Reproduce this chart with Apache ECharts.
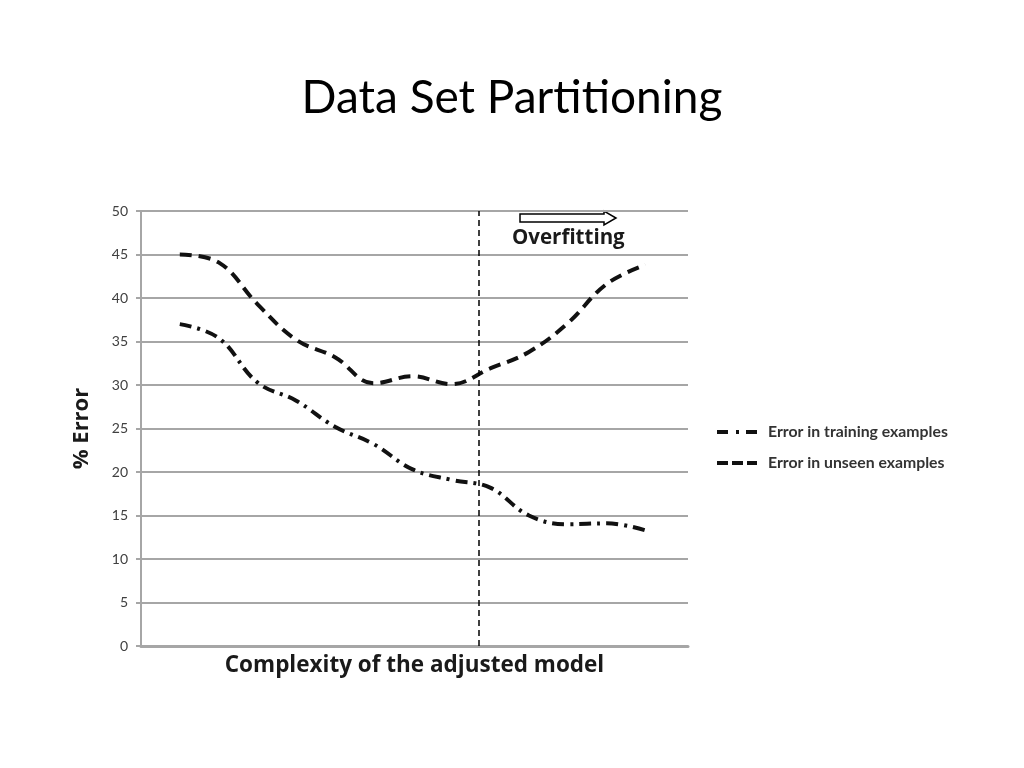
<!DOCTYPE html>
<html>
<head>
<meta charset="utf-8">
<script src="https://cdn.jsdelivr.net/npm/echarts@6/dist/echarts.min.js"></script>
<style>
html,body{margin:0;padding:0;background:#fff;}
#main{width:1024px;height:768px;}
</style>
</head>
<body>
<div id="main"></div>
<script>
var complexity = [1, 2, 3, 4, 5, 6, 7, 8, 9, 10, 11, 12, 13];
var trainingError = [37.0, 35.4, 30.3, 28.2, 25.2, 23.2, 20.3, 19.1, 18.2, 15.0, 14.0, 14.1, 13.3];
var unseenError = [45.0, 44.1, 39.3, 35.2, 33.2, 30.2, 31.0, 30.1, 31.9, 33.8, 37.1, 41.6, 43.8];
var overfitStart = 8.7;
var yTicks = [0, 5, 10, 15, 20, 25, 30, 35, 40, 45, 50];

function pairs(xs, ys) { return xs.map(function (x, i) { return [x, ys[i]]; }); }

var chart = echarts.init(document.getElementById('main'));
var gridColor = '#a6a6a6';
chart.setOption({
  backgroundColor: '#fff',
  animation: false,
  title: {
    text: 'Data Set Partitioning',
    left: 'center',
    top: 70,
    textStyle: { fontFamily: 'Lato', fontSize: 46, fontWeight: 'normal', color: '#000' }
  },
  grid: { left: 141, right: 336, top: 211, bottom: 122 },
  legend: {
    orient: 'vertical',
    left: 715,
    top: 424,
    padding: 0,
    itemWidth: 40,
    itemHeight: 14,
    itemGap: 15,
    itemStyle: { opacity: 0 },
    textStyle: { fontFamily: 'Lato', fontSize: 15.8, fontWeight: 'bold', color: '#333', padding: [0, 0, 0, 6] },
    data: [
      { name: 'Error in training examples', lineStyle: { width: 4, color: '#111', type: [11, 8, 3, 7] } },
      { name: 'Error in unseen examples', lineStyle: { width: 4, color: '#111', type: [11, 4] } }
    ]
  },
  xAxis: {
    type: 'value',
    min: 0,
    max: 14.1,
    name: 'Complexity of the adjusted model',
    nameLocation: 'middle',
    nameGap: 8,
    nameTextStyle: { fontFamily: 'Open Sans', fontSize: 22.5, fontWeight: 'bold', color: '#1a1a1a', verticalAlign: 'top' },
    axisLine: { show: true, lineStyle: { color: gridColor, width: 3 } },
    axisTick: { show: false },
    axisLabel: { show: false },
    splitLine: { show: false }
  },
  yAxis: {
    type: 'value',
    min: 0,
    max: 50,
    interval: 5,
    name: '% Error',
    nameLocation: 'middle',
    nameGap: 48,
    nameTextStyle: { fontFamily: 'Open Sans', fontSize: 22, fontWeight: 'bold', color: '#1a1a1a' },
    axisLine: { show: true, lineStyle: { color: gridColor, width: 2 } },
    axisTick: { show: true, length: 5, lineStyle: { color: gridColor, width: 2 } },
    axisLabel: {
      margin: 13, fontFamily: 'Lato', fontSize: 14, color: '#404040',
      formatter: function (v) { return yTicks.indexOf(v) >= 0 ? String(v) : ''; }
    },
    splitLine: { show: true, lineStyle: { color: gridColor, width: 2 } }
  },
  series: [
    {
      name: 'Error in training examples',
      type: 'line',
      smooth: 0.4,
      symbol: 'none',
      data: pairs(complexity, trainingError),
      lineStyle: { color: '#111', width: 4, type: [12, 6, 3, 6] },
      itemStyle: { color: '#111' },
      z: 3
    },
    {
      name: 'Error in unseen examples',
      type: 'line',
      smooth: 0.4,
      symbol: 'none',
      data: pairs(complexity, unseenError),
      lineStyle: { color: '#111', width: 4, type: [12, 7] },
      itemStyle: { color: '#111' },
      z: 3,
      markLine: {
        silent: true,
        symbol: 'none',
        label: { show: false },
        lineStyle: { color: '#000', width: 1.5, type: [6, 4] },
        data: [{ xAxis: overfitStart }]
      }
    }
  ],
  graphic: [
    {
      type: 'polygon',
      shape: { points: [[520, 214], [604, 214], [604, 211], [616, 218], [604, 225], [604, 222], [520, 222]] },
      style: { fill: '#fff', stroke: '#000', lineWidth: 1.5 }
    },
    {
      type: 'text',
      left: 512,
      top: 228,
      style: { text: 'Overfitting', font: 'bold 20.5px "Open Sans"', fill: '#1a1a1a' }
    }
  ]
});
</script>
</body>
</html>
